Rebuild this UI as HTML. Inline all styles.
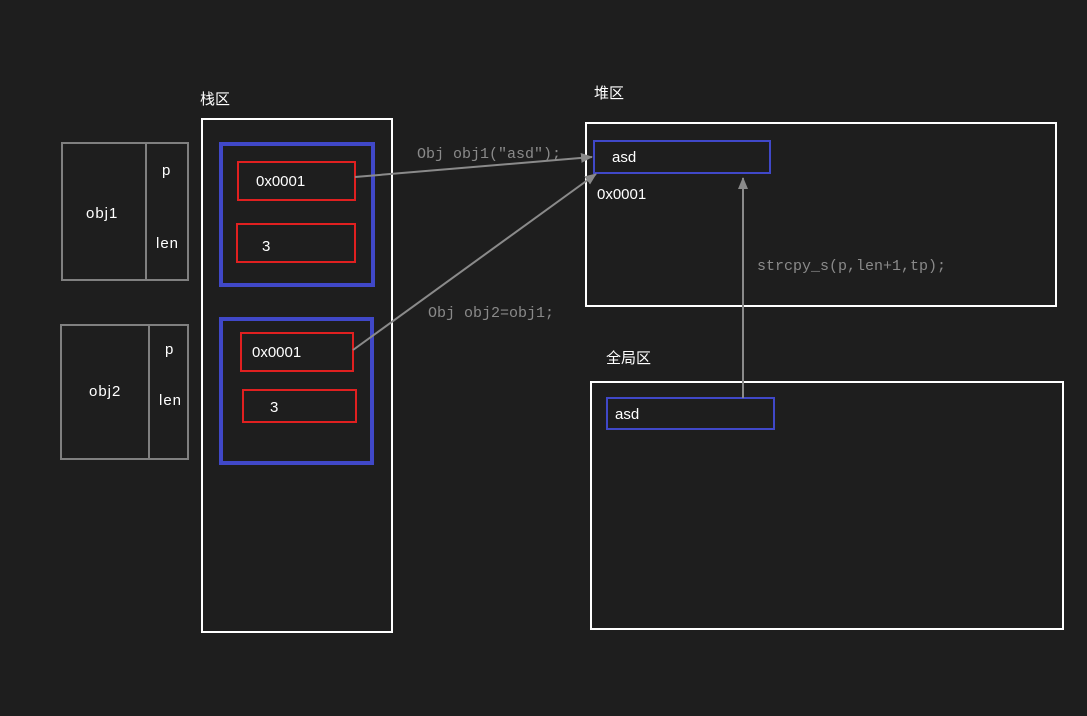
<!DOCTYPE html>
<html><head><meta charset="utf-8"><style>
html,body{margin:0;padding:0;background:#1e1e1e;width:1087px;height:716px;overflow:hidden}
svg text{font-family:"Liberation Sans","Noto Sans CJK SC",sans-serif;font-size:15px;fill:#fff}
.m{font-family:"Liberation Mono","Noto Sans CJK SC",monospace;font-size:15px;fill:#8a8a8a}
</style></head><body>
<svg width="1087" height="716" xmlns="http://www.w3.org/2000/svg">
<defs><marker id="a" markerWidth="12" markerHeight="10" refX="11" refY="5" orient="auto" markerUnits="userSpaceOnUse"><path d="M0,0 L12,5 L0,10 z" fill="#8a8a8a"/></marker></defs>
<g fill="none">
<rect x="62" y="143" width="126" height="137" stroke="#808080" stroke-width="2"/>
<line x1="146" y1="143" x2="146" y2="280" stroke="#808080" stroke-width="2"/>
<rect x="61" y="325" width="127" height="134" stroke="#808080" stroke-width="2"/>
<line x1="149" y1="325" x2="149" y2="459" stroke="#808080" stroke-width="2"/>
<rect x="202" y="119" width="190" height="513" stroke="#fff" stroke-width="2"/>
<rect x="221" y="144" width="152" height="141" stroke="#4048c8" stroke-width="4"/>
<rect x="221" y="319" width="151" height="144" stroke="#4048c8" stroke-width="4"/>
<rect x="238" y="162" width="117" height="38" stroke="#e02020" stroke-width="2"/>
<rect x="237" y="224" width="118" height="38" stroke="#e02020" stroke-width="2"/>
<rect x="241" y="333" width="112" height="38" stroke="#e02020" stroke-width="2"/>
<rect x="243" y="390" width="113" height="32" stroke="#e02020" stroke-width="2"/>
<rect x="586" y="123" width="470" height="183" stroke="#fff" stroke-width="2"/>
<rect x="594" y="141" width="176" height="32" stroke="#4048c8" stroke-width="2"/>
<rect x="591" y="382" width="472" height="247" stroke="#fff" stroke-width="2"/>
<rect x="607" y="398" width="167" height="31" stroke="#4048c8" stroke-width="2"/>
<line x1="355" y1="177" x2="592" y2="157" stroke="#8a8a8a" stroke-width="2" marker-end="url(#a)"/>
<line x1="353" y1="350" x2="596" y2="174" stroke="#8a8a8a" stroke-width="2" marker-end="url(#a)"/>
<line x1="743" y1="398" x2="743" y2="178" stroke="#8a8a8a" stroke-width="2" marker-end="url(#a)"/>
</g>
<text x="200" y="104">栈区</text>
<text x="594" y="98">堆区</text>
<text x="606" y="363">全局区</text>
<text x="86" y="218" style="letter-spacing:1px">obj1</text>
<text x="162" y="175">p</text>
<text x="156" y="248" style="letter-spacing:1px">len</text>
<text x="89" y="396" style="letter-spacing:1px">obj2</text>
<text x="165" y="354">p</text>
<text x="159" y="405" style="letter-spacing:1px">len</text>
<text x="256" y="186">0x0001</text>
<text x="262" y="251">3</text>
<text x="252" y="357">0x0001</text>
<text x="270" y="412">3</text>
<text x="612" y="162">asd</text>
<text x="597" y="199">0x0001</text>
<text x="615" y="419">asd</text>
<text class="m" x="417" y="158">Obj obj1("asd");</text>
<text class="m" x="428" y="317">Obj obj2=obj1;</text>
<text class="m" x="757" y="270">strcpy_s(p,len+1,tp);</text>
</svg>
</body></html>
